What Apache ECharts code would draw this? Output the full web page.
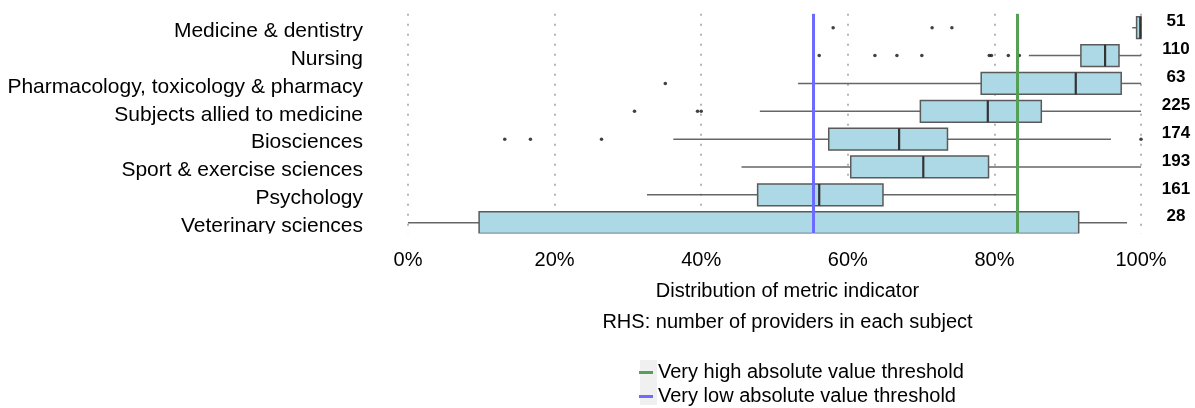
<!DOCTYPE html>
<html>
<head>
<meta charset="utf-8">
<script src="https://cdn.jsdelivr.net/npm/echarts@6/dist/echarts.min.js"></script>
<style>
  html, body { margin: 0; padding: 0; background: #fff; }
  #chart { width: 1195px; height: 408px; }
</style>
</head>
<body>
<div id="chart"></div>
<script>
const categories = [
    "Medicine & dentistry",
    "Nursing",
    "Pharmacology, toxicology & pharmacy",
    "Subjects allied to medicine",
    "Biosciences",
    "Sport & exercise sciences",
    "Psychology",
    "Veterinary sciences"
];
const providerCounts = ["51", "110", "63", "225", "174", "193", "161", "28"];

// whisker low, Q1, median, Q3, whisker high (percent)
const lowWhisker = [98.8, 84.7, 53.2, 48.0, 36.2, 45.5, 32.6, 0];
const q1 = [99.4, 91.8, 78.2, 69.9, 57.4, 60.4, 47.7, 9.7];
const median = [99.9, 95.1, 91.1, 79.1, 67.0, 70.3, 56.1, 55.3];
const q3 = [100, 97.0, 97.3, 86.4, 73.6, 79.2, 64.8, 91.5];
const highWhisker = [100, 100, 100, 100, 95.9, 100, 83.1, 98.1];

// outliers: [value, category]
const outliers = [
    [58.0, "Medicine & dentistry"], [71.5, "Medicine & dentistry"], [74.2, "Medicine & dentistry"],
    [56.1, "Nursing"], [63.7, "Nursing"], [66.7, "Nursing"], [70.1, "Nursing"],
    [79.3, "Nursing"], [79.6, "Nursing"], [81.9, "Nursing"], [83.4, "Nursing"],
    [35.1, "Pharmacology, toxicology & pharmacy"],
    [30.9, "Subjects allied to medicine"], [39.5, "Subjects allied to medicine"], [40.0, "Subjects allied to medicine"],
    [13.2, "Biosciences"], [16.7, "Biosciences"], [26.4, "Biosciences"], [100, "Biosciences"]
];

const highThreshold = 83.1;
const lowThreshold = 55.3;
const xTicks = [0, 20, 40, 60, 80, 100];
const highName = "Very high absolute value threshold";
const lowName = "Very low absolute value threshold";

const FONT = "'Liberation Sans', Arial, sans-serif";

const boxData = categories.map((c, i) =>
    [i, lowWhisker[i], q1[i], median[i], q3[i], highWhisker[i]]);

function renderBox(params, api) {
    const cat = api.value(0);
    const pLow = api.coord([api.value(1), cat]);
    const pQ1 = api.coord([api.value(2), cat]);
    const pMed = api.coord([api.value(3), cat]);
    const pQ3 = api.coord([api.value(4), cat]);
    const pHigh = api.coord([api.value(5), cat]);
    const half = api.size([0, 1])[1] * 0.39;
    const y = pQ1[1];
    const whisker = { stroke: "#666", lineWidth: 1.5 };
    return {
        type: "group",
        children: [
            { type: "line", shape: { x1: pLow[0], y1: y, x2: pQ1[0], y2: y }, style: whisker },
            { type: "line", shape: { x1: pQ3[0], y1: y, x2: pHigh[0], y2: y }, style: whisker },
            {
                type: "rect",
                shape: { x: pQ1[0], y: y - half, width: pQ3[0] - pQ1[0], height: half * 2 },
                style: { fill: "#add8e6", stroke: "#5a5a5a", lineWidth: 1.5 }
            },
            { type: "line", shape: { x1: pMed[0], y1: y - half, x2: pMed[0], y2: y + half },
              style: { stroke: "#333", lineWidth: 2.2 } }
        ]
    };
}

function legendAt(top, name) {
    return {
        left: 639,
        top: top,
        itemWidth: 14,
        itemHeight: 3,
        icon: "rect",
        padding: 0,
        textStyle: { fontSize: 20, color: "#000", lineHeight: 21, fontFamily: FONT },
        data: [name]
    };
}

function thresholdSeries(name, value, color) {
    return {
        name: name,
        type: "line",
        data: [],
        color: color,
        itemStyle: { color: color },
        lineStyle: { color: color },
        markLine: {
            silent: true,
            symbol: "none",
            label: { show: false },
            lineStyle: { color: color, width: 3, type: "solid" },
            data: [{ xAxis: value }]
        },
        z: 4
    };
}

const chart = echarts.init(document.getElementById("chart"));
chart.setOption({
    animation: false,
    textStyle: { fontFamily: FONT },
    grid: {
        left: 408, right: 54, top: 13.8, bottom: 171.4,
        containLabel: false, outerBoundsMode: "none"
    },
    xAxis: {
        type: "value",
        min: 0,
        max: 100,
        interval: 20,
        axisLine: { show: false },
        axisTick: { show: false },
        axisLabel: {
            formatter: v => xTicks.includes(v) ? v + "%" : "",
            fontSize: 20, color: "#000", margin: 14, fontFamily: FONT
        },
        splitLine: { show: true, lineStyle: { color: "#b5b5b5", width: 2, type: [2, 8] } },
        name: "Distribution of metric indicator\nRHS: number of providers in each subject",
        nameLocation: "middle",
        nameGap: 37,
        nameTextStyle: {
            fontSize: 20, color: "#000", lineHeight: 31, fontFamily: FONT,
            padding: [0, 0, 0, 26]
        }
    },
    yAxis: [
        {
            type: "category",
            inverse: true,
            data: categories,
            axisLine: { show: false },
            axisTick: { show: false },
            splitLine: { show: false },
            axisLabel: {
                margin: 45,
                formatter: v => "{c|" + v + "}",
                rich: { c: { fontSize: 21, color: "#000", fontFamily: FONT, padding: [7, 0, 0, 0] } }
            }
        },
        {
            type: "category",
            inverse: true,
            position: "right",
            data: providerCounts,
            axisLine: { show: false },
            axisTick: { show: false },
            splitLine: { show: false },
            axisLabel: {
                margin: 35,
                align: "center",
                formatter: v => "{n|" + v + "}",
                rich: {
                    n: { fontSize: 17, fontWeight: "bold", color: "#000", fontFamily: FONT,
                         padding: [0, 0, 12, 0] }
                }
            }
        }
    ],
    legend: [legendAt(362, highName), legendAt(386, lowName)],
    graphic: [
        { type: "rect", z: 100, shape: { x: 0, y: 233.5, width: 1195, height: 14 }, style: { fill: "#fff" } },
        { type: "rect", z: 1, shape: { x: 640, y: 360, width: 17, height: 45 }, style: { fill: "#f0f0f0" } }
    ],
    series: [
        {
            type: "custom",
            renderItem: renderBox,
            data: boxData,
            encode: { x: [1, 2, 3, 4, 5], y: 0 },
            z: 2
        },
        {
            type: "scatter",
            data: outliers,
            symbol: "circle",
            symbolSize: 3.5,
            itemStyle: { color: "#111" },
            z: 3
        },
        thresholdSeries(highName, highThreshold, "#55a055"),
        thresholdSeries(lowName, lowThreshold, "#6b6bff")
    ]
});
</script>
</body>
</html>
